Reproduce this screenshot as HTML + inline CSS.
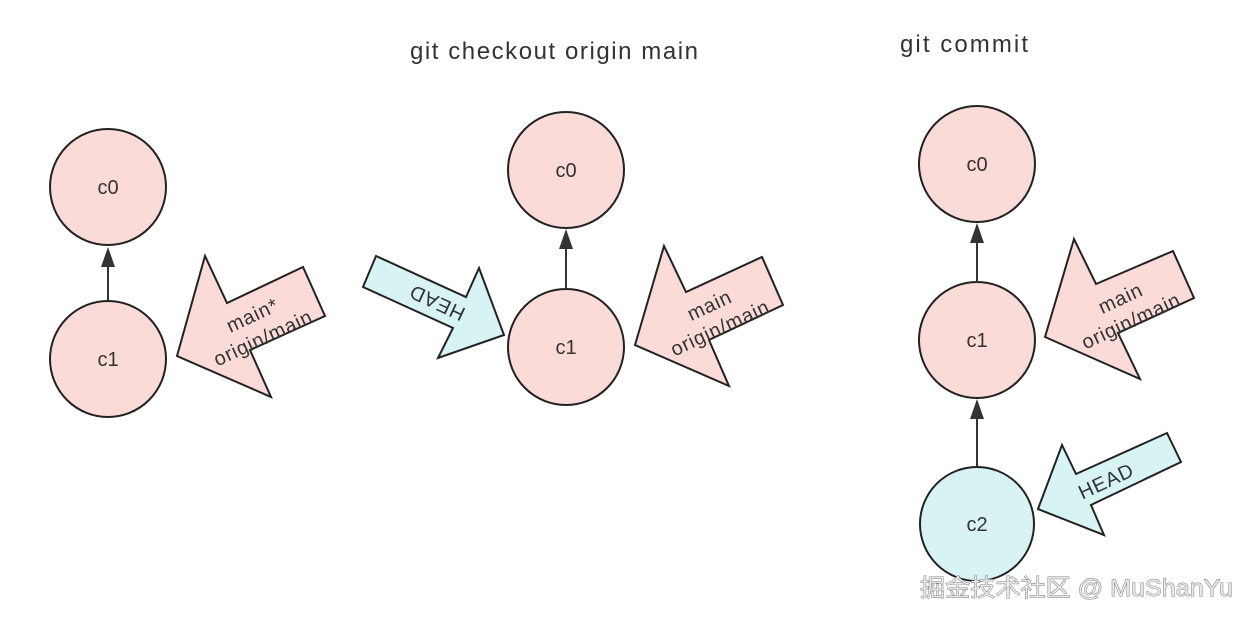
<!DOCTYPE html>
<html><head><meta charset="utf-8"><style>
html,body{margin:0;padding:0;background:#fff;}
svg{display:block;}
text{font-family:"Liberation Sans","Noto Sans CJK SC",sans-serif;fill:#333;}
</style></head><body>
<svg width="1252" height="619" viewBox="0 0 1252 619" xmlns="http://www.w3.org/2000/svg">
<g stroke="#222" stroke-width="2" fill="#fadbd8">
<circle cx="108" cy="187" r="58"/>
<circle cx="108" cy="359" r="58"/>
<circle cx="566" cy="170" r="58"/>
<circle cx="566" cy="347" r="58"/>
<circle cx="977" cy="164" r="58"/>
<circle cx="977" cy="340" r="58"/>
<circle cx="977" cy="524" r="57" fill="#d8f3f3"/>
<polygon points="177,356 205,256 227,303 303,267 325,316 250,350 271,397"/>
<polygon points="635,345 664,246 686,292 762,257 783,305 709,340 729,386"/>
<polygon points="1045,337 1074,239 1096,284 1173,251 1194,298 1118,333 1140,379"/>
<polygon fill="#d8f3f3" points="363,287 376,256 466,297 479,268 504,335 438,358 453,328"/>
<polygon fill="#d8f3f3" points="1038,509 1062,445 1076,474 1167,433 1181,462 1091,505 1104,535"/>
</g>
<g stroke="#333" stroke-width="2">
<line x1="108" y1="301" x2="108" y2="262"/>
<line x1="566" y1="289" x2="566" y2="244"/>
<line x1="977" y1="282" x2="977" y2="238"/>
<line x1="977" y1="466" x2="977" y2="414"/>
</g>
<g fill="#333">
<polygon points="108,247 101,267 115,267"/>
<polygon points="566,229 559,249 573,249"/>
<polygon points="977,223 970,243 984,243"/>
<polygon points="977,399 970,419 984,419"/>
</g>
<g font-size="20" text-anchor="middle">
<text x="108" y="194">c0</text>
<text x="108" y="366">c1</text>
<text x="566" y="177">c0</text>
<text x="566" y="354">c1</text>
<text x="977" y="171">c0</text>
<text x="977" y="347">c1</text>
<text x="977" y="531">c2</text>
</g>
<g font-size="20" text-anchor="middle" letter-spacing="0.8">
<text transform="translate(257,325) rotate(-25)"><tspan x="0" y="-4">main*</tspan><tspan x="0" y="21">origin/main</tspan></text>
<text transform="translate(714,315) rotate(-25)"><tspan x="0" y="-4">main</tspan><tspan x="0" y="21">origin/main</tspan></text>
<text transform="translate(1125,308) rotate(-25)"><tspan x="0" y="-4">main</tspan><tspan x="0" y="21">origin/main</tspan></text>
<text transform="translate(437,303) rotate(205)" y="7">HEAD</text>
<text transform="translate(1106,481) rotate(-25)" y="7">HEAD</text>
</g>
<text x="410" y="59" font-size="24" textLength="288" lengthAdjust="spacing">git checkout origin main</text>
<text x="900" y="52" font-size="24" textLength="128" lengthAdjust="spacing">git commit</text>
<text x="920" y="596" font-size="24" textLength="313" lengthAdjust="spacingAndGlyphs" style="fill:#e8e8e8;stroke:#555;stroke-width:0.7;paint-order:stroke">掘金技术社区 @ MuShanYu</text>
</svg>
</body></html>
